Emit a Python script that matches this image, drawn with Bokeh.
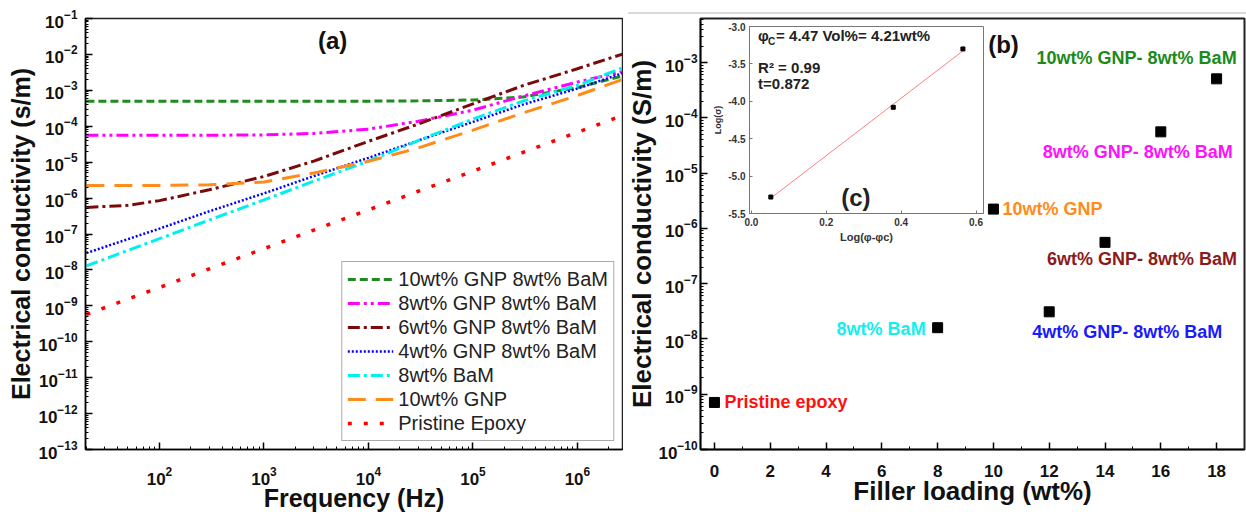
import numpy as np
from bokeh.plotting import figure
from bokeh.models import (FixedTicker, Legend, LegendItem, Label, Range1d,
                          PrintfTickFormatter, GridBox, Div)
from bokeh.embed import file_html
from bokeh.resources import INLINE

FONT = "Liberation Sans"

# ---------------- panel (a): conductivity vs frequency ----------------
freq_hz = [20, 50, 100, 300, 1e3, 3e3, 1e4, 3e4, 1e5, 3e5, 1e6, 2.7e6]
sigma_gnp10_bam8 = [5.0e-4, 5.0e-4, 5.0e-4, 5.0e-4, 5.0e-4, 5.0e-4, 5.0e-4, 5.1e-4, 5.4e-4, 6.5e-4, 1.2e-3, 2.5e-3]
sigma_gnp8_bam8 = [5.6e-5, 5.6e-5, 5.6e-5, 5.6e-5, 5.75e-5, 6.3e-5, 8.3e-5, 1.38e-4, 2.8e-4, 6.9e-4, 1.7e-3, 3.3e-3]
sigma_gnp6_bam8 = [5.5e-7, 6.3e-7, 8.5e-7, 1.7e-6, 4.0e-6, 1.07e-5, 3.8e-5, 1.15e-4, 4.2e-4, 1.35e-3, 4.0e-3, 1.02e-2]
sigma_gnp4_bam8 = [2.95e-8, 7.2e-8, 1.41e-7, 4.3e-7, 1.35e-6, 4.1e-6, 1.32e-5, 4.0e-5, 1.32e-4, 4.0e-4, 1.12e-3, 3.0e-3]
sigma_bam8 = [1.29e-8, 3.5e-8, 7.4e-8, 2.45e-7, 8.9e-7, 2.95e-6, 1.07e-5, 4.0e-5, 1.58e-4, 5.0e-4, 1.38e-3, 4.2e-3]
sigma_gnp10 = [2.24e-6, 2.24e-6, 2.24e-6, 2.34e-6, 2.8e-6, 5.0e-6, 1.05e-5, 2.5e-5, 7.8e-5, 2.34e-4, 7.2e-4, 2.0e-3]
sigma_epoxy = [5.75e-10, 1.55e-9, 3.24e-9, 1.07e-8, 3.9e-8, 1.29e-7, 4.7e-7, 1.55e-6, 5.6e-6, 1.86e-5, 6.8e-5, 2.0e-4]

series_names = ["10wt% GNP 8wt% BaM", "8wt% GNP 8wt% BaM", "6wt% GNP 8wt% BaM",
                "4wt% GNP 8wt% BaM", "8wt% BaM", "10wt% GNP", "Pristine Epoxy"]
series_values = [sigma_gnp10_bam8, sigma_gnp8_bam8, sigma_gnp6_bam8, sigma_gnp4_bam8,
                 sigma_bam8, sigma_gnp10, sigma_epoxy]
series_colors = ["#1f8a1f", "#ff00ff", "#7a0a0a", "#0000ff", "#00f0f0", "#ff8c1a", "#ff0000"]
series_dash = ["8 4", "12 4 3 4 3 4", "12 4 3 4", "2 2", "12 4 3 4", "18 10", "4 12"]
series_width = [3, 3, 3, 2.5, 3, 3, 3.5]

y_ticks_a = [10.0 ** k for k in range(-13, 0)]
x_ticks_a = [10.0 ** k for k in range(2, 7)]

# ---------------- panel (b): conductivity vs filler loading ----------------
filler_wt = [0, 8, 10, 12, 14, 16, 18]
sigma_dc = [7.1e-10, 1.6e-8, 2.24e-6, 3.1e-8, 5.6e-7, 5.6e-5, 5.1e-4]
sample_labels = ["Pristine epoxy", "8wt% BaM", "10wt% GNP", "4wt% GNP- 8wt% BaM",
                 "6wt% GNP- 8wt% BaM", "8wt% GNP- 8wt% BaM", "10wt% GNP- 8wt% BaM"]
label_colors = ["#ff1010", "#10f0f0", "#ff8c1a", "#1a1aff", "#8b1a1a", "#ff10ff", "#1a8a1a"]
label_align = ["left", "right", "left", "center", "center", "center", "center"]
label_dx = [10, -12, 9, 78, 37, -23, -80]
label_dy = [0, 1, 0, 20, 17, 20, -21]

y_ticks_b = [10.0 ** k for k in range(-10, -2)]
x_ticks_b = list(range(0, 19, 2))

# ---------------- inset (c): percolation fit ----------------
log_phi_minus_phic = [0.052, 0.379, 0.565]
log_sigma = [-5.28, -4.08, -3.30]
x_ticks_c = [0.0, 0.2, 0.4, 0.6]
y_ticks_c = [-5.5, -5.0, -4.5, -4.0, -3.5, -3.0]


def log_minor(lo, hi):
    return [m * 10.0 ** k for k in range(lo, hi) for m in range(2, 10)]


def style_axis(ax, label, label_size, tick_size="17px", standoff=8, label_standoff=0):
    ax.axis_label = label
    ax.axis_label_text_font = FONT
    ax.axis_label_text_font_style = "bold"
    ax.axis_label_text_font_size = label_size
    ax.axis_label_text_color = "#111111"
    ax.axis_label_text_line_height = 1.0
    ax.axis_label_standoff = label_standoff
    ax.major_label_text_font = FONT
    ax.major_label_text_font_style = "bold"
    ax.major_label_text_font_size = tick_size
    ax.major_label_text_color = "#111111"
    ax.major_label_standoff = standoff
    ax.major_tick_in = 7
    ax.major_tick_out = 0
    ax.minor_tick_in = 3
    ax.minor_tick_out = 0
    ax.axis_line_width = 1.5
    ax.major_tick_line_width = 1.5
    ax.minor_tick_line_width = 1


# ---------- figure (a)
pa = figure(width=623, height=514, x_axis_type="log", y_axis_type="log",
            x_range=Range1d(19.6, 2.7e6), y_range=Range1d(1e-13, 1e-1),
            output_backend="svg", toolbar_location=None, sizing_mode="fixed",
            min_border_left=85, min_border_right=1, min_border_top=18, min_border_bottom=63)
pa.grid.visible = False
pa.outline_line_color = "#222222"
pa.outline_line_width = 1.5
pa.background_fill_color = "white"
pa.border_fill_color = "white"

style_axis(pa.xaxis[0], "Frequency (Hz)", "25px", standoff=17, label_standoff=-4)
style_axis(pa.yaxis[0], "Electrical conductivity (s/m)", "25px", standoff=8)
pa.xaxis[0].ticker = FixedTicker(ticks=x_ticks_a, minor_ticks=log_minor(1, 7))
pa.yaxis[0].ticker = FixedTicker(ticks=y_ticks_a, minor_ticks=log_minor(-13, -1))

items = []
for name, vals, col, dash, lw in zip(series_names, series_values, series_colors,
                                     series_dash, series_width):
    r = pa.line(freq_hz, vals, line_color=col, line_dash=dash, line_width=lw)
    items.append(LegendItem(label=name, renderers=[r]))

legend = Legend(items=items, location="bottom_right", margin=8, padding=5, spacing=0,
                label_height=24, glyph_height=24, glyph_width=46, label_standoff=5,
                label_text_font=FONT, label_text_font_size="20px",
                label_text_color="#222222", border_line_color="#555555",
                border_line_width=1, background_fill_color="white", background_fill_alpha=1)
pa.add_layout(legend)

pa.add_layout(Label(x=4.54e3, y=2.5e-2, text="(a)", text_font=FONT, text_font_style="bold",
                    text_font_size="24px", text_align="center", text_baseline="middle",
                    text_color="#111111"))

# ---------- figure (b)
pb = figure(width=623, height=514, y_axis_type="log",
            x_range=Range1d(-0.5, 19.0), y_range=Range1d(1e-10, 6.3e-3),
            output_backend="svg", toolbar_location=None, sizing_mode="fixed",
            min_border_left=77, min_border_right=2, min_border_top=13, min_border_bottom=62)
pb.grid.visible = False
pb.outline_line_color = "#222222"
pb.outline_line_width = 2
pb.background_fill_color = "white"
pb.border_fill_color = "white"

style_axis(pb.xaxis[0], "Filler loading (wt%)", "26px", standoff=15, label_standoff=-4)
style_axis(pb.yaxis[0], "Electrical conductivity (S/m)", "26px", standoff=3, label_standoff=-2)
pb.xaxis[0].ticker = FixedTicker(ticks=x_ticks_b, minor_ticks=list(range(1, 19, 2)))
pb.yaxis[0].ticker = FixedTicker(ticks=y_ticks_b, minor_ticks=log_minor(-10, -2))

pb.scatter(filler_wt, sigma_dc, marker="square", size=10, color="black")

for i in range(len(filler_wt)):
    pb.text(x=[filler_wt[i]], y=[sigma_dc[i]], text=[sample_labels[i]],
            x_offset=label_dx[i], y_offset=label_dy[i],
            text_color=label_colors[i], text_align=label_align[i], text_baseline="middle",
            text_font={"value": FONT}, text_font_style="bold", text_font_size="18px")

pb.add_layout(Label(x=10.36, y=2.1e-3, text="(b)", text_font=FONT, text_font_style="bold",
                    text_font_size="24px", text_align="center", text_baseline="middle",
                    text_color="#111111"))

# ---------- inset (c)
pc = figure(width=285, height=230, x_range=Range1d(-0.005, 0.62), y_range=Range1d(-5.5, -3.0),
            output_backend="svg", toolbar_location=None, sizing_mode="fixed",
            min_border_left=38, min_border_right=12, min_border_top=8, min_border_bottom=35)
pc.grid.visible = False
pc.border_fill_color = None
pc.background_fill_color = "white"
pc.outline_line_color = "#777777"
pc.outline_line_width = 1

for ax, lab, size in ((pc.xaxis[0], "Log(φ-φc)", "11px"), (pc.yaxis[0], "Log(σ)", "9px")):
    ax.axis_label = lab
    ax.axis_label_text_font = FONT
    ax.axis_label_text_font_style = "bold"
    ax.axis_label_text_font_size = size
    ax.axis_label_text_color = "#333333"
    ax.axis_label_standoff = 2
    ax.major_label_text_font = FONT
    ax.major_label_text_font_style = "bold"
    ax.major_label_text_font_size = "10px"
    ax.major_label_text_color = "#333333"
    ax.major_label_standoff = 4
    ax.major_tick_in = 3
    ax.major_tick_out = 0
    ax.minor_tick_line_color = None
    ax.axis_line_color = "#777777"
    ax.major_tick_line_color = "#777777"
    ax.formatter = PrintfTickFormatter(format="%.1f")
pc.xaxis[0].ticker = FixedTicker(ticks=x_ticks_c)
pc.yaxis[0].ticker = FixedTicker(ticks=y_ticks_c)

coef = np.polyfit(log_phi_minus_phic, log_sigma, 1)
fit_x = [min(log_phi_minus_phic), max(log_phi_minus_phic)]
fit_y = list(np.polyval(coef, fit_x))
pc.line(fit_x, fit_y, line_color="#ff8080", line_width=1)
pc.scatter(log_phi_minus_phic, log_sigma, marker="square", size=4, color="black")

txt = dict(text_font=FONT, text_font_style="bold", text_color="#222222", text_baseline="middle")
TX = 0.018
pc.add_layout(Label(x=TX, y=-3.12, text="φ", text_font_size="15px", **txt))
pc.add_layout(Label(x=TX, y=-3.12, x_offset=10, y_offset=-6, text="C",
                    text_font_size="10px", **txt))
pc.add_layout(Label(x=TX, y=-3.12, x_offset=18, text="= 4.47 Vol%= 4.21wt%",
                    text_font_size="15px", **txt))
pc.add_layout(Label(x=TX, y=-3.55, text="R² = 0.99", text_font_size="15px", **txt))
pc.add_layout(Label(x=TX, y=-3.76, text="t=0.872", text_font_size="15px", **txt))
pc.add_layout(Label(x=0.279, y=-5.29, text="(c)", text_font_size="24px", text_align="center",
                    **txt))

# thin grey rule along the top of panel (b), as in the source page
rule = Div(text="", width=618, height=2, sizing_mode="fixed",
           styles={"background-color": "#d9d9d9"})

# grid tracks position the inset exactly over panel (b)
layout = GridBox(children=[(pa, 0, 0, 5, 1), (pb, 0, 1, 5, 3), (rule, 1, 1, 1, 3), (pc, 3, 2)],
                 cols=["623px", "87px", "285px", "251px"],
                 rows=["7px", "2px", "9px", "230px", "266px"])

open("out.html", "w").write(file_html(layout, INLINE))
